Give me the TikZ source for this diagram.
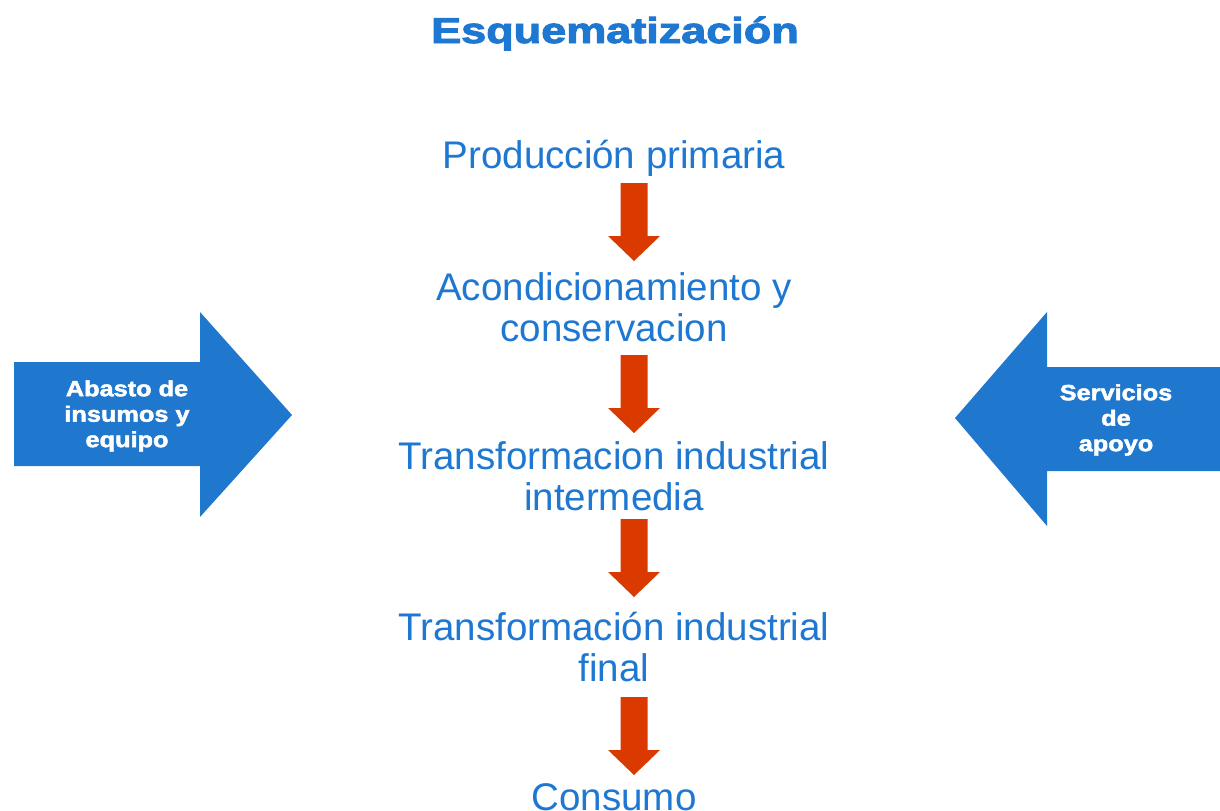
\documentclass[tikz,border=0pt]{standalone}
\usepackage{fontspec}
\setmainfont{Liberation Sans}
\newfontfamily\heavyfont{Liberation Sans Bold}[FakeBold=2]
\newfontfamily\titlefont{Liberation Sans Bold}[FakeBold=2.5]
\definecolor{txtblue}{RGB}{30,120,210}
\definecolor{arrblue}{RGB}{31,119,206}
\definecolor{arrred}{RGB}{218,58,0}
\begin{document}
\begin{tikzpicture}[x=0.75pt,y=-0.75pt,
  stage/.style={text=txtblue, font=\fontsize{28.9pt}{31.1pt}\selectfont, align=center, inner sep=0pt},
  sidetext/.style={text=white, font=\heavyfont\fontsize{16.5pt}{19.1pt}\selectfont, align=center, inner sep=0pt},
  titletext/.style={text=txtblue, font=\titlefont\fontsize{27pt}{30pt}\selectfont, inner sep=0pt},
  redarrow/.pic={\fill[arrred] (-13.5,0) -- (13.5,0) -- (13.5,53) -- (26,53) -- (0,78) -- (-26,53) -- (-13.5,53) -- cycle;}
]
\useasboundingbox (0,0) rectangle (1220,810);
% title
\node[titletext, anchor=base] (title) at (615,43) {\scalebox{1.25}[1]{Esquematización}};
% stages
\node[stage] (s1) at (614,158) {Producción primaria};
\node[stage] (s2) at (614,307) {Acondicionamiento y\\conservacion};
\node[stage] (s3) at (614,476) {Transformacion industrial\\intermedia};
\node[stage] (s4) at (614,647) {Transformación industrial\\final};
\node[stage] (s5) at (614,797) {Consumo};
% red arrows
\pic at (634,183) {redarrow};
\pic at (634,355) {redarrow};
\pic at (634,519) {redarrow};
\pic at (634,697) {redarrow};
% side arrows
\fill[arrblue] (14,362) -- (200,362) -- (200,312) -- (292,415) -- (200,517) -- (200,466) -- (14,466) -- cycle;
\node[sidetext] (left) at (127,416) {\scalebox{1.15}[1]{Abasto de}\\\scalebox{1.15}[1]{insumos y}\\\scalebox{1.15}[1]{equipo}};
\fill[arrblue] (1220,367) -- (1047,367) -- (1047,312) -- (955,418) -- (1047,526) -- (1047,471) -- (1220,471) -- cycle;
\node[sidetext] (right) at (1116,420) {\scalebox{1.15}[1]{Servicios}\\\scalebox{1.15}[1]{de}\\\scalebox{1.15}[1]{apoyo}};
\end{tikzpicture}
\end{document}
